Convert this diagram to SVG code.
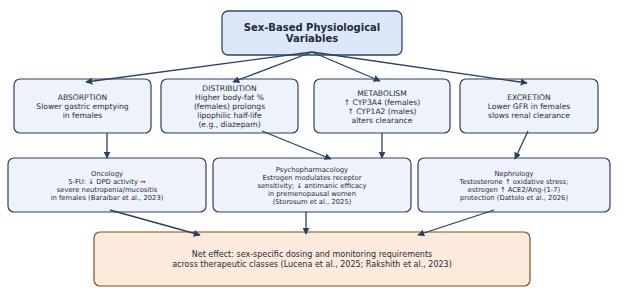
<svg xmlns="http://www.w3.org/2000/svg" width="624" height="293" viewBox="0 0 624 293">
<defs>
<marker id="ah" viewBox="0 0 10 10" refX="9" refY="5" markerWidth="7" markerHeight="7" markerUnits="userSpaceOnUse" orient="auto">
<path d="M0,0 L10,5 L0,10 z" fill="#2b4060"/>
</marker>
</defs>
<style>
text{font-family:"DejaVu Sans","Liberation Sans",sans-serif;fill:#1e2a3a;text-anchor:middle}
.top{fill:#dce8f8;stroke:#2d4a6b;stroke-width:1.3}
.mid{fill:#eef2fb;stroke:#2b4060;stroke-width:1.2}
.bot{fill:#fcebdc;stroke:#8a4a1a;stroke-width:1.2}
.t1{font-size:10px;font-weight:bold}
.t2{font-size:7.6px}
.t3{font-size:6.8px}
.t4{font-size:8px}
.c line{stroke:#2b4060;stroke-width:1.3;marker-end:url(#ah)}
</style>
<g id="top"><rect class="top" x="222" y="11" width="180" height="44" rx="6"/>
<text class="t1" x="312" y="31">Sex-Based Physiological</text><text class="t1" x="312" y="42">Variables</text></g>
<g id="absorption"><rect class="mid" x="14" y="79" width="137" height="54" rx="6"/>
<text class="t2"><tspan x="82.5" y="100">ABSORPTION</tspan><tspan x="82.5" y="109">Slower gastric emptying</tspan><tspan x="82.5" y="118">in females</tspan></text></g>
<g id="distribution"><rect class="mid" x="161" y="79" width="137" height="54" rx="6"/>
<text class="t2"><tspan x="229.5" y="91">DISTRIBUTION</tspan><tspan x="229.5" y="100">Higher body-fat %</tspan><tspan x="229.5" y="109">(females) prolongs</tspan><tspan x="229.5" y="118">lipophilic half-life</tspan><tspan x="229.5" y="127">(e.g., diazepam)</tspan></text></g>
<g id="metabolism"><rect class="mid" x="314" y="79" width="136" height="54" rx="6"/>
<text class="t2"><tspan x="382" y="96">METABOLISM</tspan><tspan x="382" y="105">↑ CYP3A4 (females)</tspan><tspan x="382" y="114">↑ CYP1A2 (males)</tspan><tspan x="382" y="123">alters clearance</tspan></text></g>
<g id="excretion"><rect class="mid" x="460" y="79" width="138" height="54" rx="6"/>
<text class="t2"><tspan x="529" y="100">EXCRETION</tspan><tspan x="529" y="109">Lower GFR in females</tspan><tspan x="529" y="118">slows renal clearance</tspan></text></g>
<g id="oncology"><rect class="mid" x="8" y="158" width="198" height="54" rx="6"/>
<text class="t3"><tspan x="107" y="176">Oncology</tspan><tspan x="107" y="184">5-FU: ↓ DPD activity →</tspan><tspan x="107" y="192">severe neutropenia/mucositis</tspan><tspan x="107" y="200">in females (Baraibar et al., 2023)</tspan></text></g>
<g id="psycho"><rect class="mid" x="213" y="158" width="198" height="54" rx="6"/>
<text class="t3"><tspan x="312" y="172">Psychopharmacology</tspan><tspan x="312" y="180">Estrogen modulates receptor</tspan><tspan x="312" y="188">sensitivity; ↓ antimanic efficacy</tspan><tspan x="312" y="196">in premenopausal women</tspan><tspan x="312" y="204">(Storosum et al., 2025)</tspan></text></g>
<g id="nephro"><rect class="mid" x="418" y="158" width="192" height="54" rx="6"/>
<text class="t3"><tspan x="514" y="176">Nephrology</tspan><tspan x="514" y="184">Testosterone ↑ oxidative stress;</tspan><tspan x="514" y="192">estrogen ↑ ACE2/Ang-(1-7)</tspan><tspan x="514" y="200">protection (Dattolo et al., 2026)</tspan></text></g>
<g id="net"><rect class="bot" x="94" y="232" width="436" height="54" rx="6"/>
<text class="t4"><tspan x="312" y="257">Net effect: sex-specific dosing and monitoring requirements</tspan><tspan x="312" y="267">across therapeutic classes (Lucena et al., 2025; Rakshith et al., 2023)</tspan></text></g>
<g class="c" id="connectors">
<line x1="312" y1="52" x2="86" y2="82"/>
<line x1="312" y1="52" x2="233" y2="82"/>
<line x1="312" y1="52" x2="380" y2="81"/>
<line x1="312" y1="52" x2="527" y2="83"/>
<line x1="107" y1="133" x2="107" y2="158"/>
<line x1="262" y1="131" x2="331" y2="159"/>
<line x1="382" y1="133" x2="382" y2="158"/>
<line x1="528" y1="131" x2="515" y2="159"/>
<line x1="110" y1="210" x2="200" y2="235"/>
<line x1="306" y1="212" x2="306" y2="234"/>
<line x1="494" y1="210" x2="418" y2="235"/>
</g>
</svg>
